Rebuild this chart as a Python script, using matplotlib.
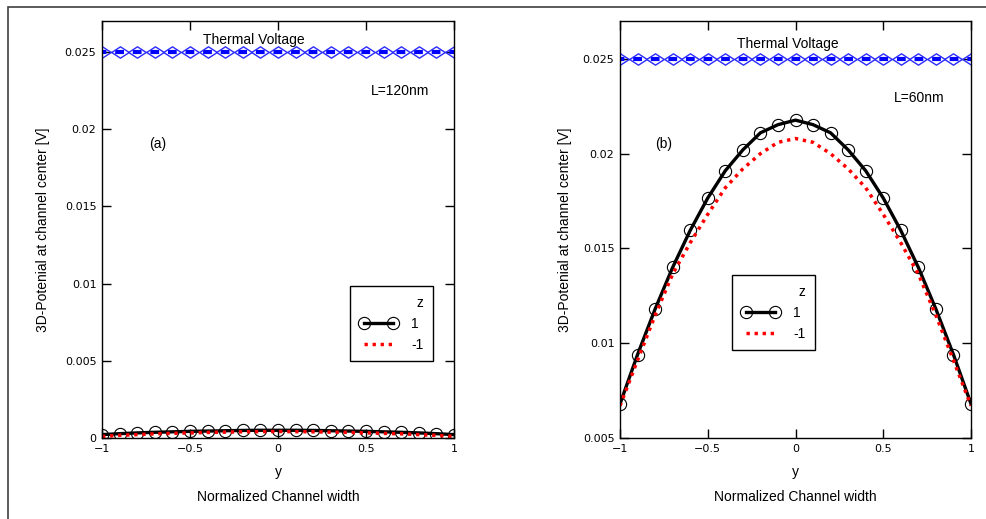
import numpy as np
import matplotlib
matplotlib.use('Agg')
import matplotlib.pyplot as plt
from matplotlib.path import Path
from matplotlib.patches import Rectangle

plt.rcParams['lines.scale_dashes'] = False
plt.rcParams['font.family'] = ['Liberation Sans', 'DejaVu Sans']

# normalized channel width positions
y_pos = [-1.0, -0.9, -0.8, -0.7, -0.6, -0.5, -0.4, -0.3, -0.2, -0.1, 0.0,
         0.1, 0.2, 0.3, 0.4, 0.5, 0.6, 0.7, 0.8, 0.9, 1.0]
thermal_v = [0.025] * 21

# (a) L=120nm
a_z_pos = [0.00022, 0.00028, 0.00033, 0.00037, 0.0004, 0.00043, 0.00045, 0.00047, 0.00049, 0.0005, 0.0005,
           0.0005, 0.00049, 0.00047, 0.00045, 0.00043, 0.0004, 0.00037, 0.00033, 0.00028, 0.00022]
a_z_neg = [0.0001, 0.00017, 0.00022, 0.00027, 0.0003, 0.00033, 0.00036, 0.00038, 0.0004, 0.00041, 0.00042,
           0.00041, 0.0004, 0.00038, 0.00036, 0.00033, 0.0003, 0.00027, 0.00022, 0.00017, 0.0001]

# (b) L=60nm
b_z_pos = [0.0068, 0.0094, 0.0118, 0.0140, 0.01595, 0.01766, 0.0191, 0.0202, 0.0211, 0.02153, 0.02177,
           0.02153, 0.0211, 0.0202, 0.0191, 0.01766, 0.01595, 0.0140, 0.0118, 0.0094, 0.0068]
b_z_neg = [0.0067, 0.0091, 0.01147, 0.01365, 0.0153, 0.0168, 0.0182, 0.0192, 0.0200, 0.0206, 0.0208,
           0.0206, 0.0200, 0.0192, 0.0182, 0.0168, 0.0153, 0.01365, 0.01147, 0.0091, 0.0067]

x_ticks = [-1, -0.5, 0, 0.5, 1]
x_ticklabels = ['\u22121', '\u22120.5', '0', '0.5', '1']

diamond = Path([(-1, 0), (0, 0.65), (1, 0), (0, -0.65), (-1, 0)],
               [Path.MOVETO, Path.LINETO, Path.LINETO, Path.LINETO, Path.CLOSEPOLY])

fig = plt.figure(figsize=(9.87, 5.19), dpi=100)
fig.add_artist(Rectangle((8 / 987, -0.2), 1.2, 0.2 + 1 - 7 / 519, transform=fig.transFigure,
                         fill=False, edgecolor='#404040', lw=1.2))


def panel(rect, zpos, zneg, yticks, yticklabels, ylim, tag, tag_xy, length, len_xy, tv_xy, leg_xy):
    ax = fig.add_axes(rect)
    ax.plot(y_pos, thermal_v, color='#0000ff', lw=3, linestyle=(3.17, (6.33, 6.33)),
            marker=diamond, ms=12.6, mfc='none', mec='#2a2aff', mew=1.0)
    l1, = ax.plot(y_pos, zpos, color='black', lw=2.4, marker='o', ms=8.8, mfc='none', mec='black', mew=0.8)
    l2, = ax.plot(y_pos, zneg, color='red', lw=2.5, linestyle=(0, (2.4, 3.4)))
    ax.set_xlim(-1, 1)
    ax.set_ylim(*ylim)
    ax.set_xticks(x_ticks, x_ticklabels)
    ax.set_yticks(yticks, yticklabels)
    ax.tick_params(direction='in', length=6.5, width=1, top=True, right=True, labelsize=8, pad=4)
    for lab in ax.get_xticklabels() + ax.get_yticklabels():
        lab.set_fontfamily('DejaVu Sans')
    for s in ax.spines.values():
        s.set_linewidth(1)
    ax.text(0.5, -0.0815, 'y', transform=ax.transAxes, ha='center', va='center', fontsize=10)
    ax.text(0.5, -0.1415, 'Normalized Channel width', transform=ax.transAxes, ha='center', va='center', fontsize=10)
    ax.text(tv_xy[0], tv_xy[1], 'Thermal Voltage', transform=ax.transAxes, ha='center', va='center', fontsize=10)
    ax.text(len_xy[0], len_xy[1], length, transform=ax.transAxes, ha='center', va='center', fontsize=10)
    ax.text(tag_xy[0], tag_xy[1], tag, transform=ax.transAxes, ha='center', va='center', fontsize=10)
    leg = ax.legend([l1, l2], ['1', '-1'], title='z', alignment='right', loc='upper left',
                    bbox_to_anchor=leg_xy, borderaxespad=0, numpoints=2, handlelength=2.7,
                    fontsize=10, title_fontsize=10, fancybox=False, framealpha=1, edgecolor='black',
                    borderpad=0.7, labelspacing=0.5, handletextpad=1.0)
    leg.get_frame().set_linewidth(1)
    return ax


ax1 = panel([102 / 987, 81 / 519, 352 / 987, 417 / 519], a_z_pos, a_z_neg,
            [0, 0.005, 0.01, 0.015, 0.02, 0.025], ['0', '0.005', '0.01', '0.015', '0.02', '0.025'],
            (0, 0.027), '(a)', (0.158, 0.705), 'L=120nm', (0.847, 0.833), (0.432, 0.954), (0.705, 0.3645))
ax1.text(-0.167, 0.5, '3D-Potenial at channel center [V]', transform=ax1.transAxes,
         rotation=90, ha='center', va='center', fontsize=10)

ax2 = panel([620 / 987, 81 / 519, 351 / 987, 417 / 519], b_z_pos, b_z_neg,
            [0.005, 0.01, 0.015, 0.02, 0.025], ['0.005', '0.01', '0.015', '0.02', '0.025'],
            (0.005, 0.027), '(b)', (0.125, 0.705), 'L=60nm', (0.853, 0.816), (0.479, 0.945), (0.319, 0.391))
ax2.text(-0.157, 0.5, '3D-Potenial at channel center [V]', transform=ax2.transAxes,
         rotation=90, ha='center', va='center', fontsize=10)

fig.savefig('out.png', dpi=100)
